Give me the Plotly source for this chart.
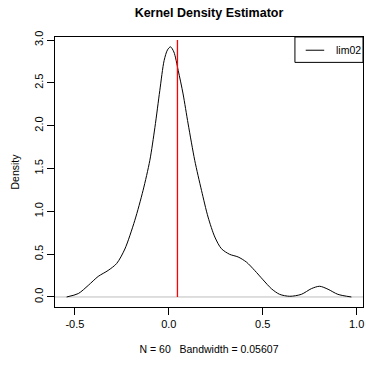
import plotly.graph_objects as go

# ---- data ----
kde_x = [-0.544, -0.482, -0.429, -0.376, -0.323, -0.278, -0.234, -0.181, -0.137,
         -0.101, -0.074, -0.048, -0.025, -0.007, 0.009, 0.027, 0.050, 0.076,
         0.103, 0.138, 0.174, 0.209, 0.245, 0.280, 0.324, 0.369, 0.413, 0.457,
         0.502, 0.546, 0.590, 0.644, 0.706, 0.759, 0.803, 0.848, 0.900, 0.972]
kde_y = [0.0, 0.04, 0.135, 0.24, 0.31, 0.39, 0.56, 0.895, 1.245,
         1.595, 1.98, 2.41, 2.76, 2.885, 2.92, 2.86, 2.645, 2.37,
         2.02, 1.595, 1.245, 0.933, 0.70, 0.564, 0.498, 0.467, 0.408, 0.31,
         0.20, 0.097, 0.031, 0.008, 0.031, 0.097, 0.125, 0.09, 0.031, 0.0]
mean_value = 0.046
mean_line_y = [0.0, 3.0]
series_name = "lim02"
x_ticks = [-0.5, 0.0, 0.5, 1.0]
x_tick_labels = ["-0.5", "0.0", "0.5", "1.0"]
y_ticks = [0.0, 0.5, 1.0, 1.5, 2.0, 2.5, 3.0]
y_tick_labels = ["0.0", "0.5", "1.0", "1.5", "2.0", "2.5", "3.0"]
title_text = "Kernel Density Estimator"
x_title = "N = 60   Bandwidth = 0.05607"
y_title = "Density"

FONT = "Liberation Sans, Arial, sans-serif"

fig = go.Figure()
fig.add_trace(go.Scatter(x=kde_x, y=kde_y, mode="lines", name=series_name,
                         line=dict(color="black", width=1, shape="spline", smoothing=0.8),
                         showlegend=False))
fig.add_trace(go.Scatter(x=[mean_value, mean_value], y=mean_line_y, mode="lines",
                         line=dict(color="#ff0000", width=1.3), showlegend=False))

# zero reference line
fig.add_shape(type="line", xref="paper", x0=0, x1=1, yref="y", y0=0, y1=0,
              line=dict(color="#bebebe", width=1), layer="below")

# legend box (drawn manually, R style)
fig.add_shape(type="rect", xref="paper", yref="paper", x0=0.779, x1=1.0, y0=0.906, y1=1.0,
              line=dict(color="black", width=1), fillcolor="white")
fig.add_shape(type="line", xref="paper", yref="paper", x0=0.814, x1=0.874, y0=0.951, y1=0.951,
              line=dict(color="black", width=1))
fig.add_annotation(xref="paper", yref="paper", x=0.905, y=0.951, text=series_name,
                   showarrow=False, xanchor="left", yanchor="middle",
                   font=dict(family=FONT, size=10.5, color="black"))

fig.update_layout(
    width=366, height=365,
    margin=dict(l=55, r=3, t=37, b=58),
    paper_bgcolor="white", plot_bgcolor="white",
    font=dict(family=FONT, size=11, color="black"),
    title=dict(text="<b>" + title_text + "</b>", x=0.571, xanchor="center",
               y=1 - 13 / 365, yanchor="middle", font=dict(size=12.5)),
)
fig.update_xaxes(range=[-0.606, 1.034], tickvals=x_ticks, ticktext=x_tick_labels,
                 showgrid=False, zeroline=False, showline=True, linecolor="black",
                 linewidth=1, mirror=True, ticks="outside", ticklen=7, tickcolor="black",
                 tickfont=dict(size=11),
                 title=dict(text=x_title, font=dict(size=10.5), standoff=16))
fig.update_yaxes(range=[-0.117, 3.035], tickvals=y_ticks, ticktext=y_tick_labels,
                 showgrid=False, zeroline=False, showline=True, linecolor="black",
                 linewidth=1, mirror=True, ticks="outside", ticklen=7, tickcolor="black",
                 tickangle=-90, tickfont=dict(size=11),
                 title=dict(text=y_title, font=dict(size=10.5), standoff=10))

fig.write_html("out.html")
